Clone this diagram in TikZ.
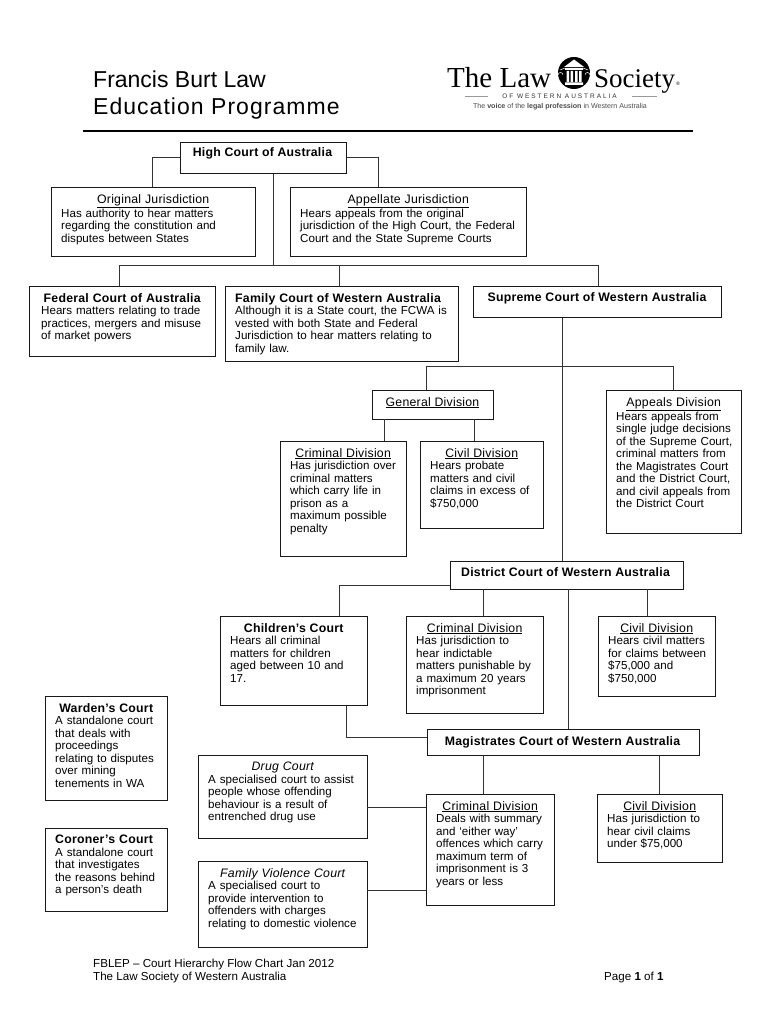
\documentclass[tikz,border=0pt]{standalone}
\usepackage{fontspec}
\setmainfont{Liberation Sans}
\newfontfamily\logofont{Liberation Serif}
\newcommand{\bodysize}{\fontsize{11.6}{12.5}\selectfont}
\newcommand{\ts}{\fontsize{12.3}{12.5}\selectfont\addfontfeature{LetterSpace=2}}
\newcommand{\bt}[1]{{\bfseries\ts #1}}
\newcommand{\ut}[1]{\underline{\ts #1}}
\newcommand{\itl}[1]{{\itshape\ts #1}}
\newcommand{\inset}{10}
\newcommand{\cbox}[7]{%
  \node[courtbox,anchor=north west,minimum width={#4-#2},minimum height={#5-#3}] (#1) at (#2,#3) {};
  \node[anchor=north west,inner sep=0pt,text width={#4-#2-2*\inset},align=left,font=\bodysize] (#1t) at ({#2+\inset},{#3+7}) {#6\\#7};}
\tikzset{
  courtbox/.style={draw=black!90,line width=1pt,fill=white,inner sep=0pt,rectangle},
  link/.style={draw=black!80,line width=0.9pt},
}
\begin{document}
\begin{tikzpicture}[x=1pt,y=-1pt]
\useasboundingbox (0,0) rectangle (768,1024);
\fill[white] (0,0) rectangle (768,1024);
\coordinate (hl) at (152,157); \coordinate (hr) at (378,157);
\coordinate (tb) at (273,265); \coordinate (tl) at (119,265); \coordinate (tr) at (598,265); \coordinate (tm) at (339,265);
\coordinate (sb) at (562,366); \coordinate (sl) at (426,366); \coordinate (sr) at (673,366);
\coordinate (dl) at (339,585); \coordinate (cb) at (346,737);
% title
\node[anchor=base west,inner sep=0pt] (title1) at (93,88) {\fontsize{23}{23}\selectfont Francis Burt Law};
\node[anchor=base west,inner sep=0pt] (title2) at (93,115) {\fontsize{23}{23}\selectfont\addfontfeature{LetterSpace=4.5}Education Programme};
\draw[line width=2.6pt] (83,131) -- (693,131);
% logo
\node[anchor=base west,inner sep=0pt] (l1) at (447,88) {\logofont\fontsize{29}{29}\selectfont The Law};
\node[anchor=base west,inner sep=0pt] (l2) at (594,88) {\logofont\fontsize{27}{27}\selectfont Society};
\node[anchor=base west,inner sep=0pt] (l3) at (676,86) {\fontsize{5}{5}\selectfont ®};
\fill[black] (574,73) circle (16);
\fill[white] (574,59.5) -- (584,67) -- (564,67) -- cycle;
\fill[white] (565,68) rectangle (583,70) (566.5,71) rectangle (569,82) (570.5,71) rectangle (573,82) (575,71) rectangle (577.5,82) (579,71) rectangle (581.5,82) (565,82.5) rectangle (583,85);
\draw[white,line width=0.5pt] (560,70) -- (565,68) (588,70) -- (583,68) (558,75) arc[start angle=180,end angle=360,radius=2.5] (585,75) arc[start angle=180,end angle=360,radius=2.5];
\node[anchor=base,inner sep=0pt,text=black!80] (l4) at (559.5,99) {\fontsize{6.5}{6.5}\selectfont\addfontfeature{LetterSpace=30}OF WESTERN AUSTRALIA};
\draw[black!40,line width=0.6pt] (465,96) -- (488,96) (632,96) -- (657,96);
\node[anchor=base,inner sep=0pt,text=black!70] (l5) at (560,109) {\fontsize{7.1}{7.1}\selectfont The \textbf{voice} of the \textbf{legal profession} in Western Australia};
% boxes
\node[courtbox,anchor=north west,minimum width=166,minimum height=31] (high) at (180,142) {};
\node[anchor=base,inner sep=0pt] (hight) at (262.5,157) {\bodysize\bt{High Court of Australia}};
\cbox{orig}{51}{187}{255}{256}{\centerline{\ut{Original Jurisdiction}}}{Has authority to hear matters\\regarding the constitution and\\disputes between States}
\cbox{appe}{290}{187}{526}{256}{\centerline{\ut{Appellate Jurisdiction}}}{Hears appeals from the original\\jurisdiction of the High Court, the Federal\\Court and the State Supreme Courts}
\renewcommand{\inset}{12}
\cbox{fede}{29}{286}{215}{356}{\centerline{\bt{Federal Court of Australia}}}{Hears matters relating to trade\\practices, mergers and misuse\\of market powers}
\renewcommand{\inset}{10}
\cbox{fami}{225}{286}{458}{361}{\bt{Family Court of Western Australia}}{Although it is a State court, the FCWA is\\vested with both State and Federal\\Jurisdiction to hear matters relating to\\family law.}
\node[courtbox,anchor=north west,minimum width=248,minimum height=31] (supr) at (473,286) {};
\node[anchor=base,inner sep=0pt] (suprt) at (597,301) {\bodysize\bt{Supreme Court of Western Australia}};
\node[courtbox,anchor=north west,minimum width=121,minimum height=29] (gene) at (372,390) {};
\node[anchor=base,inner sep=0pt] (genet) at (432.5,406) {\bodysize\ut{General Division}};
\cbox{appd}{606}{390}{741}{533}{\centerline{\ut{Appeals Division}}}{Hears appeals from\\\mbox{single judge decisions}\\\mbox{of the Supreme Court,}\\criminal matters from\\\mbox{the Magistrates Court}\\\mbox{and the District Court,}\\\mbox{and civil appeals from}\\the District Court}
\cbox{crig}{280}{441}{406}{556}{\centerline{\ut{Criminal Division}}}{Has jurisdiction over\\criminal matters\\which carry life in\\prison as a\\maximum possible\\penalty}
\cbox{civg}{420}{441}{543}{528}{\centerline{\ut{Civil Division}}}{Hears probate\\matters and civil\\claims in excess of\\\$750,000}
\node[courtbox,anchor=north west,minimum width=233,minimum height=28] (dist) at (450,561) {};
\node[anchor=base,inner sep=0pt] (distt) at (565.5,576) {\bodysize\bt{District Court of Western Australia}};
\cbox{chil}{220}{616}{367}{705}{\centerline{\bt{Children’s Court}}}{Hears all criminal\\matters for children\\aged between 10 and\\17.}
\cbox{crid}{406}{616}{543}{713}{\centerline{\ut{Criminal Division}}}{Has jurisdiction to\\hear indictable\\\mbox{matters punishable by}\\a maximum 20 years\\imprisonment}
\cbox{civd}{598}{616}{715}{696}{\centerline{\ut{Civil Division}}}{Hears civil matters\\\mbox{for claims between}\\\$75,000 and\\\$750,000}
\node[courtbox,anchor=north west,minimum width=272,minimum height=26] (magi) at (427,729) {};
\node[anchor=base,inner sep=0pt] (magit) at (562.5,745) {\bodysize\bt{Magistrates Court of Western Australia}};
\cbox{ward}{45}{696}{167}{800}{\centerline{\bt{Warden’s Court}}}{A standalone court\\that deals with\\proceedings\\\mbox{relating to disputes}\\over mining\\tenements in WA}
\cbox{coro}{45}{828}{167}{911}{\bt{Coroner’s Court}}{A standalone court\\that investigates\\\mbox{the reasons behind}\\a person’s death}
\cbox{drug}{198}{755}{367}{838}{\centerline{\itl{Drug Court}}}{A specialised court to assist\\people whose offending\\behaviour is a result of\\entrenched drug use}
\cbox{fvco}{198}{861}{367}{947}{\centerline{\itl{Family Violence Court}}}{A specialised court to\\provide intervention to\\offenders with charges\\\mbox{relating to domestic violence}}
\cbox{crim}{426}{794}{554}{905}{\centerline{\ut{Criminal Division}}}{Deals with summary\\and ‘either way’\\\mbox{offences which carry}\\maximum term of\\imprisonment is 3\\years or less}
\cbox{civm}{597}{794}{722}{862}{\centerline{\ut{Civil Division}}}{Has jurisdiction to\\hear civil claims\\under \$75,000}
% links
\draw[link] (high.west |- hl) -- (hl) -- (hl |- orig.north);
\draw[link] (high.east |- hr) -- (hr) -- (hr |- appe.north);
\draw[link] (high.south -| tb) -- (tb);
\draw[link] (tl) -- (tr);
\draw[link] (tl) -- (tl |- fede.north);
\draw[link] (tm) -- (tm |- fami.north);
\draw[link] (tr) -- (tr |- supr.north);
\draw[link] (supr.south -| sb) -- (sb |- dist.north);
\draw[link] (sl |- gene.north) -- (sl) -- (sr) -- (sr |- appd.north);
\draw[link] (384,419) -- (384,441);
\draw[link] (474,419) -- (474,441);
\draw[link] (dist.west |- dl) -- (dl) -- (dl |- chil.north);
\draw[link] (483,589) -- (483,616);
\draw[link] (647,589) -- (647,616);
\draw[link] (568,589) -- (568,729);
\draw[link] (cb |- chil.south) -- (cb) -- (cb -| magi.west);
\draw[link] (483,755) -- (483,794);
\draw[link] (659,755) -- (659,794);
\draw[link] (367,807) -- (426,807);
\draw[link] (367,890.5) -- (426,890.5);
% footer
\node[anchor=base west,inner sep=0pt] (f1) at (93,967) {\bodysize FBLEP – Court Hierarchy Flow Chart Jan 2012};
\node[anchor=base west,inner sep=0pt] (f2) at (93,980) {\bodysize The Law Society of Western Australia};
\node[anchor=base west,inner sep=0pt] (f3) at (604,980) {\bodysize Page \textbf{1} of \textbf{1}};
\end{tikzpicture}
\end{document}
